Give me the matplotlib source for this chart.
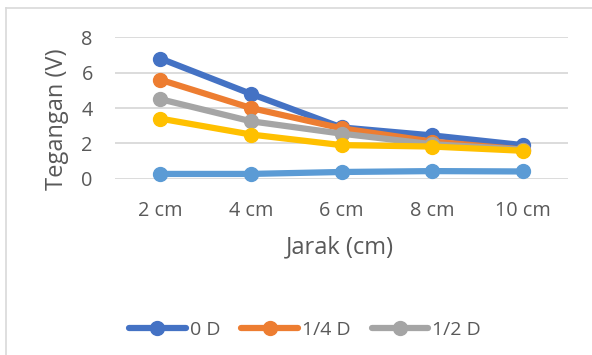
import matplotlib
matplotlib.use("Agg")
import matplotlib.pyplot as plt
from matplotlib.lines import Line2D

# Data: voltage vs. distance for each lens setting
jarak = ["2 cm", "4 cm", "6 cm", "8 cm", "10 cm"]
v_0d = [6.8, 4.8, 2.9, 2.45, 1.9]
v_14d = [5.6, 4.0, 2.85, 2.1, 1.65]
v_12d = [4.5, 3.25, 2.55, 1.95, 1.65]
v_34d = [3.4, 2.5, 1.9, 1.82, 1.58]
v_1d = [0.27, 0.27, 0.38, 0.43, 0.41]

series_names = ["0 D", "1/4 D", "1/2 D", "3/4 D", "1 D"]
series_values = [v_0d, v_14d, v_12d, v_34d, v_1d]
colors = ["#4472C4", "#ED7D31", "#A5A5A5", "#FFC000", "#5B9BD5"]
legend_count = 3

y_ticks = [0, 2, 4, 6, 8]

W, H = 592, 355
plt.rcParams["font.family"] = ["Open Sans", "DejaVu Sans"]
txt = "#595959"
grid = "#D9D9D9"
fs_tick = 14.3
fs_title = 17
fs_leg = 14

fig = plt.figure(figsize=(W / 100, H / 100), dpi=100)
fig.patch.set_facecolor("white")

# chart border (top and left edges)
fig.add_artist(Line2D([6 / W, 6 / W], [0, 1 - 8 / H], color=grid, lw=1.2, transform=fig.transFigure))
fig.add_artist(Line2D([6 / W, 1], [1 - 8 / H, 1 - 8 / H], color=grid, lw=1.2, transform=fig.transFigure))

left, right = 115 / W, 568 / W
bottom, top = 1 - 178.7 / H, 1 - 37.3 / H
ax = fig.add_axes([left, bottom, right - left, top - bottom])

x = list(range(len(jarak)))
handles = []
for name, vals, c in zip(series_names, series_values, colors):
    (ln,) = ax.plot(x, vals, color=c, lw=4.5, marker="o", markersize=10,
                    solid_capstyle="round", label=name, clip_on=False, zorder=3)
    handles.append(ln)

ax.set_xlim(-0.5, len(jarak) - 0.5)
ax.set_ylim(0, 8)
ax.set_yticks(y_ticks)
ax.set_xticks(x)
ax.set_xticklabels(jarak)
ax.yaxis.grid(True, color=grid, lw=1.3)
ax.set_axisbelow(True)
for s in ax.spines.values():
    s.set_visible(False)
ax.tick_params(axis="both", length=0, colors=txt, labelsize=fs_tick)
ax.tick_params(axis="x", pad=16)
ax.tick_params(axis="y", pad=16)

ax.set_xlabel("Jarak (cm)", fontsize=fs_title, color=txt)
ax.set_ylabel("Tegangan (V)", fontsize=fs_title, color=txt)
ax.xaxis.set_label_coords((340 - 115) / 453, -(247 - 178.7) / 141.4)
ax.xaxis.label.set_verticalalignment("center")
ax.yaxis.set_label_coords(-(115 - 57) / 453, (178.7 - 119) / 141.4)
ax.yaxis.label.set_verticalalignment("center")

fig.legend(handles=handles[:legend_count], loc="center",
           bbox_to_anchor=(305 / W, 1 - 330 / H), ncol=legend_count,
           frameon=False, fontsize=fs_leg, labelcolor=txt,
           handlelength=2.9, handletextpad=0.2, columnspacing=1.1)

fig.savefig("out.png", dpi=100)
